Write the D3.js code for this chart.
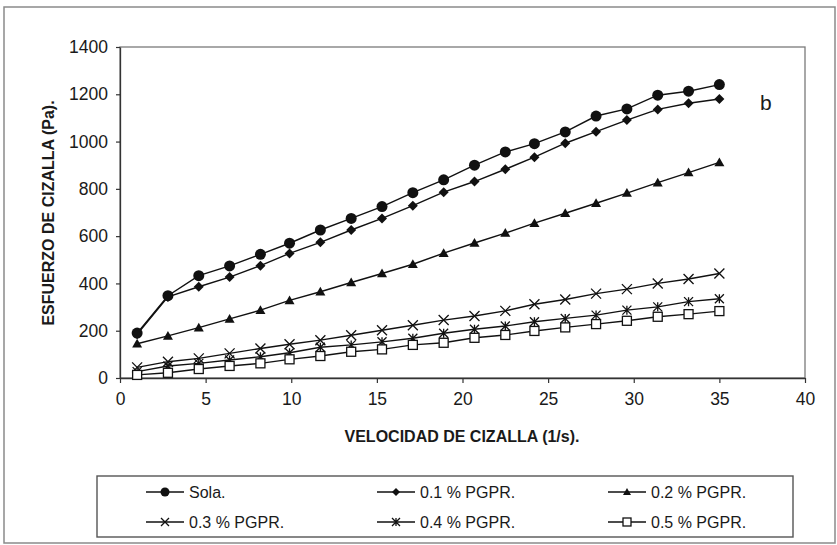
<!DOCTYPE html>
<html>
<head>
<meta charset="utf-8">
<script src="https://cdn.jsdelivr.net/npm/d3@7"></script>
<style>
  html, body { margin: 0; padding: 0; background: #fff; }
  svg { display: block; }
  text { font-family: "Liberation Sans", Arial, sans-serif; fill: #1a1a1a; }
</style>
</head>
<body>
<svg id="chart" width="837" height="545"></svg>
<script>
// Shear rate (1/s)
const shearRate = [1.0, 2.8, 4.6, 6.4, 8.2, 9.9, 11.7, 13.5, 15.3, 17.1,
                   18.9, 20.7, 22.5, 24.2, 26.0, 27.8, 29.6, 31.4, 33.2, 35.0];

// Shear stress (Pa) for each formulation
const sola   = [190, 348, 433, 474, 523, 570, 626, 675, 725, 784,
                838, 900, 956, 991, 1041, 1108, 1138, 1196, 1213, 1241];
const pgpr01 = [185, 343, 386, 427, 475, 527, 574, 626, 675, 729,
                786, 831, 883, 934, 993, 1042, 1091, 1136, 1162, 1180];
const pgpr02 = [145, 178, 213, 250, 287, 328, 365, 404, 442, 481,
                528, 571, 613, 655, 697, 739, 782, 826, 869, 912];
const pgpr03 = [45, 69, 83, 104, 125, 143, 160, 181, 202, 223,
                245, 262, 284, 312, 332, 357, 376, 400, 419, 442];
const pgpr04 = [27, 51, 62, 76, 90, 107, 130, 140, 153, 168,
                189, 206, 220, 238, 252, 266, 287, 301, 323, 335];
const pgpr05 = [13, 22, 38, 51, 62, 79, 93, 111, 121, 140,
                149, 170, 182, 199, 214, 228, 242, 259, 270, 283];

const seriesNames = ["Sola.", "0.1 % PGPR.", "0.2 % PGPR.", "0.3 % PGPR.", "0.4 % PGPR.", "0.5 % PGPR."];
const seriesMarkers = ["circle", "diamond", "triangle", "cross", "star", "square"];
const seriesValues = [sola, pgpr01, pgpr02, pgpr03, pgpr04, pgpr05];

const xTicks = [0, 5, 10, 15, 20, 25, 30, 35, 40];
const yTicks = [0, 200, 400, 600, 800, 1000, 1200, 1400];

const xTitle = "VELOCIDAD DE CIZALLA (1/s).";
const yTitle = "ESFUERZO DE CIZALLA (Pa).";
const panelLabel = "b";

const svg = d3.select("#chart");

// Outer chart frame
svg.append("rect")
  .attr("x", 4).attr("y", 7).attr("width", 831).attr("height", 536)
  .attr("fill", "none").attr("stroke", "#8a8a8a").attr("stroke-width", 1.5);

const plot = { left: 120, right: 805, top: 47, bottom: 378 };

const x = d3.scaleLinear().domain([0, 40]).range([plot.left, plot.right]);
const y = d3.scaleLinear().domain([0, 1400]).range([plot.bottom, plot.top]);

// Plot area border
svg.append("rect")
  .attr("x", plot.left).attr("y", plot.top)
  .attr("width", plot.right - plot.left).attr("height", plot.bottom - plot.top)
  .attr("fill", "none").attr("stroke", "#7a7a7a").attr("stroke-width", 1.3);

// Axes
const fmt = d3.format("d");
const xAxis = svg.append("g")
  .attr("transform", `translate(0,${plot.bottom})`)
  .call(d3.axisBottom(x).tickValues(xTicks).tickFormat(fmt).tickSize(5).tickSizeOuter(0).tickPadding(10));
const yAxis = svg.append("g")
  .attr("transform", `translate(${plot.left},0)`)
  .call(d3.axisLeft(y).tickValues(yTicks).tickFormat(fmt).tickSize(4).tickSizeOuter(0).tickPadding(8));

[xAxis, yAxis].forEach(ax => {
  ax.select(".domain").attr("stroke", "#333").attr("stroke-width", 1.3);
  ax.selectAll(".tick line").attr("stroke", "#333").attr("stroke-width", 1.2);
  ax.selectAll(".tick text")
    .attr("font-family", "'Liberation Sans', Arial, sans-serif")
    .attr("font-size", 17.5).attr("fill", "#1a1a1a");
});

// Axis titles
svg.append("text")
  .attr("x", 462).attr("y", 442)
  .attr("text-anchor", "middle")
  .attr("font-size", 16).attr("font-weight", "bold")
  .text(xTitle);

svg.append("text")
  .attr("transform", "translate(54,213) rotate(-90)")
  .attr("text-anchor", "middle")
  .attr("font-size", 16).attr("font-weight", "bold")
  .text(yTitle);

svg.append("text")
  .attr("x", 760).attr("y", 110)
  .attr("font-size", 21)
  .text(panelLabel);

// Marker drawing
function drawMarker(g, type, s) {
  const r = s / 2;
  switch (type) {
    case "circle":
      g.append("circle").attr("r", r).attr("fill", "#111");
      break;
    case "diamond":
      g.append("path").attr("d", `M0,${-r}L${r},0L0,${r}L${-r},0Z`).attr("fill", "#111");
      break;
    case "triangle":
      g.append("path").attr("d", `M0,${-r}L${r},${r * 0.75}L${-r},${r * 0.75}Z`).attr("fill", "#111");
      break;
    case "cross":
      g.append("path").attr("d", `M${-r},${-r}L${r},${r}M${-r},${r}L${r},${-r}`)
        .attr("stroke", "#111").attr("stroke-width", 1.3).attr("fill", "none");
      break;
    case "star":
      g.append("path").attr("d", `M${-r},${-r}L${r},${r}M${-r},${r}L${r},${-r}M0,${-r}L0,${r}`)
        .attr("stroke", "#111").attr("stroke-width", 1.3).attr("fill", "none");
      break;
    case "square":
      g.append("rect").attr("x", -r).attr("y", -r).attr("width", 2 * r).attr("height", 2 * r)
        .attr("fill", "#fff").attr("stroke", "#111").attr("stroke-width", 1.3);
      break;
  }
}

const markerSize = { circle: 11, diamond: 10, triangle: 10, cross: 10, star: 9, square: 9 };
const legendMarkerSize = { circle: 9, diamond: 8, triangle: 8, cross: 8, star: 8, square: 8 };

const line = d3.line().x(d => x(d.x)).y(d => y(d.y));

seriesValues.forEach((vals, i) => {
  const pts = shearRate.map((sx, j) => ({ x: sx, y: vals[j] }));
  const g = svg.append("g").attr("class", "series");
  g.append("path").datum(pts)
    .attr("d", line)
    .attr("fill", "none").attr("stroke", "#111").attr("stroke-width", 1.4);
  const type = seriesMarkers[i];
  g.selectAll("g.pt").data(pts).enter().append("g")
    .attr("class", "pt")
    .attr("transform", d => `translate(${x(d.x)},${y(d.y)})`)
    .each(function () { drawMarker(d3.select(this), type, markerSize[type]); });
});

// Legend
svg.append("rect")
  .attr("x", 97).attr("y", 476).attr("width", 696).attr("height", 61)
  .attr("fill", "#fff").attr("stroke", "#555").attr("stroke-width", 1.4);

const legendCols = [146, 377, 608];
const legendRows = [492, 522];
seriesNames.forEach((name, i) => {
  const cx = legendCols[i % 3];
  const cy = legendRows[Math.floor(i / 3)];
  const g = svg.append("g").attr("class", "legend-item");
  g.append("line")
    .attr("x1", cx).attr("x2", cx + 38).attr("y1", cy).attr("y2", cy)
    .attr("stroke", "#111").attr("stroke-width", 1.4);
  const type = seriesMarkers[i];
  drawMarker(g.append("g").attr("transform", `translate(${cx + 19},${cy})`), type, legendMarkerSize[type]);
  g.append("text")
    .attr("x", cx + 43).attr("y", cy + 6)
    .attr("font-size", 16)
    .text(name);
});
</script>
</body>
</html>
